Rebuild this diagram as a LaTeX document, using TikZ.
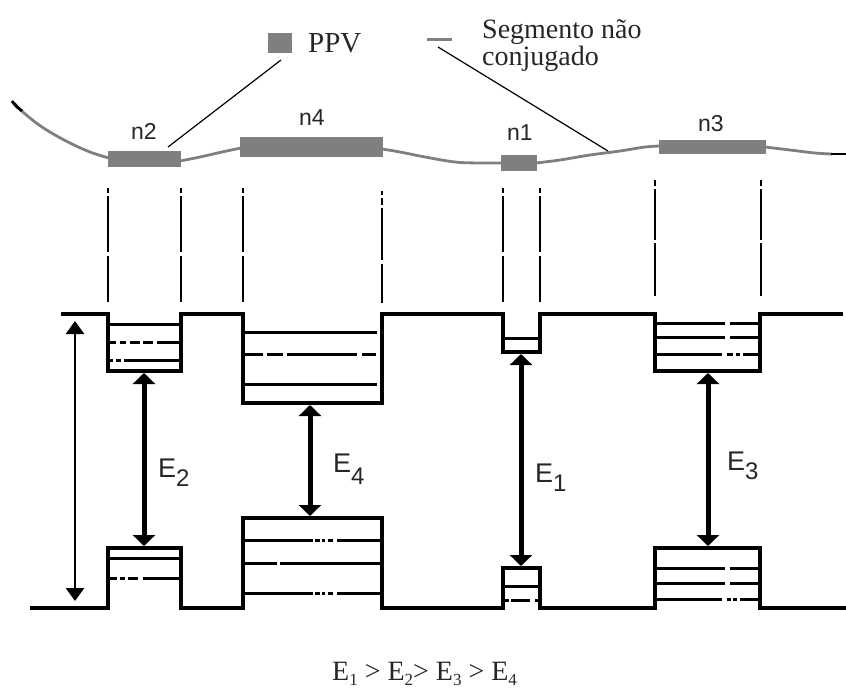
\documentclass[tikz,border=0pt]{standalone}
\usepackage{fontspec}
\newfontfamily\lsans{Liberation Sans}
\newfontfamily\lserif{Liberation Serif}
\usetikzlibrary{arrows.meta}
\definecolor{chaingray}{HTML}{7F7F7F}
\begin{document}
\begin{tikzpicture}[x=1pt,y=-1pt,
  band/.style={line width=3.6pt, line join=miter, line cap=rect},
  lvl/.style={line width=3pt},
  guide/.style={line width=2.8pt},
  chain/.style={chaingray, line width=2.8pt},
  chainbox/.style={fill=chaingray},
  leader/.style={line width=1.2pt},
  earrow/.style={line width=5pt, {Triangle[width=22pt,length=11pt]}-{Triangle[width=22pt,length=11pt]}},
  garrow/.style={line width=2.8pt, {Triangle[width=18pt,length=13pt]}-{Triangle[width=18pt,length=13pt]}},
  elabel/.style={font=\lsans\fontsize{27}{29}\selectfont, text=black!85, inner sep=0pt, anchor=base west},
  nlabel/.style={font=\lsans\fontsize{23}{25}\selectfont, text=black!85, inner sep=0pt, anchor=base west},
  legend/.style={font=\lserif\fontsize{29}{31}\selectfont, text=black!85, inner sep=0pt, anchor=base west},
  seglegend/.style={legend, font=\lserif\fontsize{28}{30}\selectfont},
]
\useasboundingbox (0,0) rectangle (846,688);

% ---------- polymer chain ----------
\draw[chain] plot[smooth, tension=0.6] coordinates {(14,103) (24,113) (42,127) (66,141) (90,152) (109,158)};
\draw[black, line width=2.8pt] plot[smooth] coordinates {(12,101) (16,106) (22,111)};
\draw[chain] plot[smooth, tension=0.6] coordinates {(180,161) (200,157) (222,152) (241,148)};
\draw[chain] plot[smooth, tension=0.6] coordinates {(382,149) (400,152) (425,157) (455,162) (480,163) (502,163)};
\draw[chain] plot[smooth, tension=0.6] coordinates {(536,163) (560,160) (590,155) (620,151) (645,147) (660,146)};
\draw[chain] plot[smooth, tension=0.6] coordinates {(765,147) (790,150) (815,153) (832,154)};
\draw[black, line width=2.8pt] (831,154) -- (846,154);
\fill[chainbox] (108,151) rectangle (181,167);
\fill[chainbox] (240,137) rectangle (383,157);
\fill[chainbox] (501,155) rectangle (537,171);
\fill[chainbox] (659,140) rectangle (766,154);

\node[nlabel] (n2) at (131,139) {n2};
\node[nlabel] (n4) at (299,125) {n4};
\node[nlabel] (n1) at (507,140) {n1};
\node[nlabel] (n3) at (698,131) {n3};

% ---------- legend ----------
\fill[chainbox] (268,33) rectangle (292,53);
\node[legend] (ppv) at (308,52) {PPV};
\draw[chaingray, line width=3pt] (427,39) -- (452,39);
\node[seglegend] (seg1) at (482,38) {Segmento não};
\node[seglegend] (seg2) at (482,65) {conjugado};
\coordinate (ppvtail) at (281,60);
\coordinate (ppvhead) at (168,147);
\coordinate (segtail) at (438,47);
\coordinate (seghead) at (608,151);
\draw[leader] (ppvtail) -- (ppvhead);
\draw[leader] (segtail) -- (seghead);

% ---------- vertical guide lines ----------
\foreach \x in {108,181,243,503,540}{
  \draw[guide] (\x,188) -- (\x,193);
  \draw[guide] (\x,196) -- (\x,252);
  \draw[guide] (\x,256) -- (\x,302);
}
\draw[guide] (382,191) -- (382,195);
\draw[guide] (382,198) -- (382,205);
\draw[guide] (382,208) -- (382,260);
\draw[guide] (382,264) -- (382,303);
\foreach \x in {655,761}{
  \draw[guide] (\x,180) -- (\x,186);
  \draw[guide] (\x,189) -- (\x,240);
  \draw[guide] (\x,243) -- (\x,296);
}

% ---------- bands ----------
\draw[band] (63,314) -- (108,314) -- (108,371) -- (181,371) -- (181,314) -- (243,314) -- (243,403) -- (382,403) -- (382,314) -- (503,314) -- (503,352) -- (540,352) -- (540,314) -- (655,314) -- (655,371) -- (760,371) -- (760,314) -- (841,314);
\draw[band] (32,608) -- (108,608) -- (108,548) -- (181,548) -- (181,608) -- (243,608) -- (243,518) -- (382,518) -- (382,608) -- (503,608) -- (503,568) -- (540,568) -- (540,608) -- (655,608) -- (655,548) -- (760,548) -- (760,608) -- (846,608);

% ---------- levels (upper wells) ----------
\foreach \y/\a/\b in {
  324/108/181,
  342/110/116, 342/120/126, 342/130/140, 342/143/153, 342/157/181,
  360/110/113, 360/116/121, 360/124/181,
  332/243/377,
  354/243/263, 354/267/283, 354/287/357, 354/362/376,
  384/243/377,
  338/503/540,
  323/655/725, 323/730/760,
  337/655/725, 337/730/760,
  354/655/722, 354/727/733, 354/736/740, 354/743/760}
  \draw[lvl] (\a,\y) -- (\b,\y);

% ---------- levels (lower bumps) ----------
\foreach \y/\a/\b in {
  558/108/181,
  578/110/117, 578/120/125, 578/128/138, 578/143/181,
  540/243/313, 540/315/320, 540/322/325, 540/328/333, 540/337/382,
  563/243/277, 563/280/382,
  593/243/313, 593/315/320, 593/322/325, 593/328/333, 593/337/382,
  586/503/540,
  600/505/509, 600/511/530, 600/535/538,
  568/655/725, 568/730/760,
  583/655/725, 583/730/760,
  599/655/722, 599/727/731, 599/733/737, 599/740/760}
  \draw[lvl] (\a,\y) -- (\b,\y);

% ---------- arrows ----------
\coordinate (gtop) at (75,321);
\coordinate (gbot) at (75,601);
\draw[garrow] (gtop) -- (gbot);

\coordinate (w2) at (144,373);  \coordinate (b2) at (144,546);
\coordinate (w4) at (310,405);  \coordinate (b4) at (310,516);
\coordinate (w1) at (521,354);  \coordinate (b1) at (521,566);
\coordinate (w3) at (708,373);  \coordinate (b3) at (708,546);
\draw[earrow] (w2) -- (b2);
\draw[earrow] (w4) -- (b4);
\draw[earrow] (w1) -- (b1);
\draw[earrow] (w3) -- (b3);

\node[elabel] (E2) at (158,477) {E\raisebox{-9pt}{\fontsize{24}{24}\selectfont 2}};
\node[elabel] (E4) at (333,472) {E\raisebox{-12pt}{\fontsize{24}{24}\selectfont 4}};
\node[elabel] (E1) at (535,482) {E\raisebox{-9pt}{\fontsize{24}{24}\selectfont 1}};
\node[elabel] (E3) at (727,470) {E\raisebox{-9pt}{\fontsize{24}{24}\selectfont 3}};

% ---------- formula ----------
\node[legend, font=\lserif\fontsize{28}{30}\selectfont] (formula) at (332,680)
  {E\raisebox{-5pt}{\fontsize{17}{17}\selectfont 1} > E\raisebox{-5pt}{\fontsize{17}{17}\selectfont 2}> E\raisebox{-5pt}{\fontsize{17}{17}\selectfont 3} > E\raisebox{-5pt}{\fontsize{17}{17}\selectfont 4}};
\end{tikzpicture}
\end{document}
